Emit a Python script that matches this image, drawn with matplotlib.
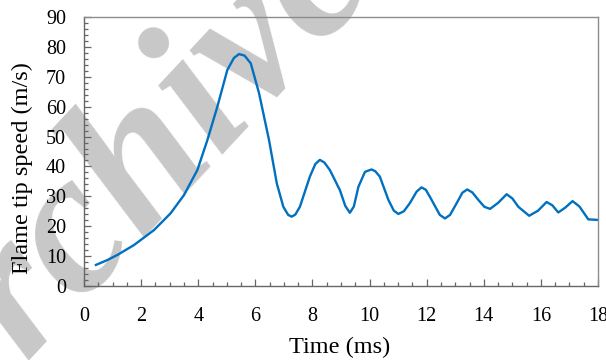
import matplotlib.pyplot as plt
from matplotlib.ticker import MultipleLocator

# flame tip speed trace
time_ms = [0.38, 0.8, 1.17, 1.75, 2.45, 3.03, 3.5, 3.97, 4.32, 4.67, 5.02, 5.25,
           5.43, 5.62, 5.84, 6.13, 6.48, 6.75, 6.98, 7.15, 7.27, 7.4, 7.56, 7.91,
           8.1, 8.26, 8.42, 8.61, 8.96, 9.15, 9.31, 9.45, 9.61, 9.84, 10.07, 10.2,
           10.36, 10.66, 10.85, 11.01, 11.2, 11.41, 11.65, 11.82, 11.97, 12.11,
           12.46, 12.64, 12.82, 13.05, 13.25, 13.42, 13.6, 13.81, 14.02, 14.22,
           14.5, 14.8, 15.0, 15.21, 15.59, 15.9, 16.2, 16.4, 16.61, 16.85, 17.11,
           17.35, 17.66, 18.0]
speed = [6.9, 8.6, 10.4, 13.7, 18.7, 24.3, 30.4, 38.8, 48.8, 60.0, 72.3, 76.3,
         77.6, 77.1, 74.5, 64.5, 48.8, 34.4, 26.5, 23.8, 23.2, 23.9, 26.5, 36.6,
         40.8, 42.2, 41.3, 38.8, 32.1, 26.8, 24.5, 26.6, 33.2, 38.2, 39.0, 38.4,
         36.6, 28.8, 25.2, 24.1, 25.0, 27.7, 31.6, 33.0, 32.2, 29.9,
         23.8, 22.6, 23.8, 27.7, 31.2, 32.3, 31.3, 28.8, 26.5, 25.8,
         27.8, 30.7, 29.3, 26.5, 23.5, 25.2, 28.1, 27.0, 24.6, 26.2, 28.4,
         26.6, 22.3, 22.1]

x_ticks = list(range(0, 19, 2))
y_ticks = list(range(0, 91, 10))

plt.rcParams["font.family"] = ["Liberation Serif", "DejaVu Serif"]

fig = plt.figure(figsize=(6.06, 3.6), dpi=100)
ax = fig.add_axes([84 / 606, 1 - 286 / 360, 514 / 606, 269 / 360])
ax.set_facecolor("none")

# gray "Archive" stamp behind the plot
fig.text(125 / 606, 1 - 197 / 360, "Archive", fontsize=146, fontweight="bold",
         style="italic", color="#c8c8c8", rotation=47, ha="center", va="center",
         zorder=-1)

ax.plot(time_ms, speed, color="#0070c0", linewidth=1.7, solid_capstyle="butt")

ax.set_xlim(0, 18)
ax.set_ylim(0, 90)
ax.set_xticks(x_ticks)
ax.set_yticks(y_ticks)
ax.xaxis.set_minor_locator(MultipleLocator(0.5))
ax.yaxis.set_minor_locator(MultipleLocator(2))
ax.tick_params(which="both", direction="in", color="#666666", labelsize=14.5, width=0.9)
ax.tick_params(axis="x", which="major", length=5, pad=15)
ax.tick_params(axis="y", which="major", length=5, pad=13)
ax.tick_params(which="minor", length=3)
for name, spine in ax.spines.items():
    spine.set_linewidth(1.0)
    spine.set_color("#666666" if name in ("left", "bottom") else "#8c8c8c")

ax.set_xlabel("Time (ms)", fontsize=17.5)
ax.set_ylabel("Flame tip speed (m/s)", fontsize=17.5)
ax.xaxis.set_label_coords(0.497, -0.19)
ax.yaxis.set_label_coords(-0.099, 0.44)

fig.savefig("out.png", dpi=100)
